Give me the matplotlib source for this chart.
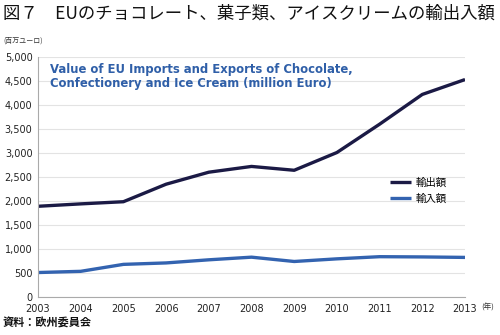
import matplotlib
matplotlib.use("Agg")
import matplotlib.pyplot as plt
from matplotlib.ticker import FuncFormatter

plt.rcParams['font.family'] = ['Noto Sans CJK JP', 'DejaVu Sans']

years = [2003, 2004, 2005, 2006, 2007, 2008, 2009, 2010, 2011, 2012, 2013]
exports = [1890, 1940, 1985, 2350, 2600, 2720, 2640, 3010, 3600, 4220, 4530]
imports = [510, 535, 680, 710, 775, 830, 740, 795, 840, 835, 825]
yticks = [0, 500, 1000, 1500, 2000, 2500, 3000, 3500, 4000, 4500, 5000]
export_label = "輸出額"
import_label = "輸入額"
fig_title = "図７　EUのチョコレート、菓子類、アイスクリームの輸出入額"
inner_title = "Value of EU Imports and Exports of Chocolate,\nConfectionery and Ice Cream (million Euro)"
unit_label = "(百万ユーロ)"
year_label = "(年)"
source = "資料：欧州委員会"

fig = plt.figure(figsize=(5, 3.35), dpi=100)
ax = fig.add_axes([0.076, 0.1134, 0.854, 0.7165])

ax.plot(years, exports, color="#1b1a45", lw=2.4, label=export_label, solid_capstyle='butt')
ax.plot(years, imports, color="#3363b0", lw=2.4, label=import_label, solid_capstyle='butt')

ax.set_xlim(2003, 2013)
ax.set_ylim(0, 5000)
ax.set_xticks(years)
ax.set_yticks(yticks)
ax.yaxis.set_major_formatter(FuncFormatter(lambda v, p: f"{int(v):,}"))
ax.grid(axis='y', color="#e3e3e3", lw=0.8)
ax.set_axisbelow(True)
for s in ['top', 'right']:
    ax.spines[s].set_visible(False)
for s in ['left', 'bottom']:
    ax.spines[s].set_color("#aaaaaa")
    ax.spines[s].set_linewidth(0.8)
ax.tick_params(axis='y', length=0, labelsize=7, colors="#222222", pad=4)
ax.tick_params(axis='x', length=0, labelsize=7, colors="#222222", pad=5)
for lbl in ax.get_xticklabels() + ax.get_yticklabels():
    lbl.set_family('DejaVu Sans')

leg = ax.legend(loc='upper left', bbox_to_anchor=(0.812, 0.52), frameon=False,
                fontsize=7.5, handlelength=2.0, handletextpad=0.5, labelspacing=0.55,
                borderpad=0)

ax.text(0.028, 0.975, inner_title, transform=ax.transAxes, va='top', ha='left',
        color="#2f5fa8", fontsize=8.4, fontweight='bold', family='DejaVu Sans',
        linespacing=1.15)

fig.text(0.006, 0.985, fig_title, ha='left', va='top', fontsize=12.5, color="#111111")
fig.text(0.006, 0.88, unit_label, ha='left', va='center', fontsize=5, color="#333333")
fig.text(0.962, 0.083, year_label, ha='left', va='center', fontsize=5.5, color="#333333")
fig.text(0.006, 0.015, source, ha='left', va='bottom', fontsize=8, fontweight='bold', color="#111111")

fig.savefig("out.png", dpi=100)
